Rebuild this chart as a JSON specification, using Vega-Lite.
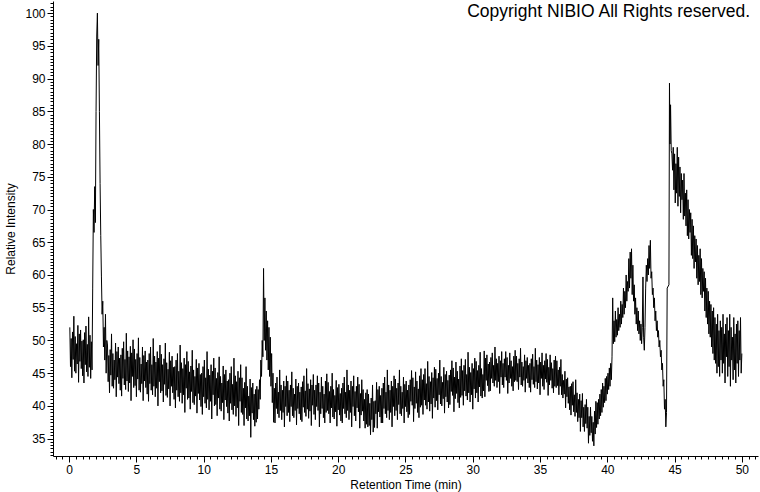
{
  "$schema": "https://vega.github.io/schema/vega-lite/v6.json",
  "width": 705,
  "height": 455,
  "autosize": {"type": "none"},
  "padding": {"left": 53, "top": 1, "right": 2, "bottom": 36},
  "background": "white",
  "config": {
    "view": {"stroke": null},
    "font": "Liberation Sans",
    "axis": {
      "domainColor": "black", "tickColor": "black", "labelColor": "black", "titleColor": "black",
      "labelFont": "Liberation Sans", "titleFont": "Liberation Sans",
      "labelFontSize": 12, "titleFontSize": 12, "titleFontWeight": "normal",
      "grid": false, "labelOverlap": false, "labelFlush": false, "labelPadding": 2
    }
  },
  "layer": [
    {
      "data": {"values": [
        {"t":0.05,"v":52.0},{"t":0.1,"v":46.0},{"t":0.15,"v":50.3},{"t":0.2,"v":44.3},{"t":0.25,"v":51.3},{"t":0.3,"v":47.1},{"t":0.35,"v":53.7},{"t":0.4,"v":45.3},{"t":0.45,"v":50.6},{"t":0.5,"v":45.0},
        {"t":0.55,"v":49.5},{"t":0.6,"v":46.4},{"t":0.65,"v":52.3},{"t":0.7,"v":43.6},{"t":0.75,"v":51.0},{"t":0.8,"v":46.8},{"t":0.85,"v":51.6},{"t":0.9,"v":45.7},{"t":0.95,"v":49.9},{"t":1.0,"v":44.6},
        {"t":1.05,"v":50.1},{"t":1.1,"v":43.5},{"t":1.15,"v":51.2},{"t":1.2,"v":46.3},{"t":1.25,"v":52.2},{"t":1.3,"v":45.2},{"t":1.35,"v":49.4},{"t":1.4,"v":44.5},{"t":1.45,"v":53.6},{"t":1.5,"v":45.9},
        {"t":1.55,"v":50.8},{"t":1.6,"v":44.2},{"t":1.65,"v":49.8},{"t":1.7,"v":45.5},
        {"t":1.75,"v":58},{"t":1.8,"v":70},{"t":1.85,"v":66.5},{"t":1.9,"v":73.5},{"t":1.95,"v":68},{"t":2.0,"v":85},{"t":2.05,"v":96.5},{"t":2.1,"v":100},{"t":2.15,"v":92},{"t":2.2,"v":96},{"t":2.25,"v":85},{"t":2.3,"v":74},{"t":2.35,"v":66},{"t":2.4,"v":59.7},{"t":2.45,"v":54},{"t":2.5,"v":56},{"t":2.55,"v":49},{"t":2.6,"v":52},{"t":2.65,"v":47},{"t":2.7,"v":54},{"t":2.75,"v":45},{"t":2.8,"v":50},
        {"t":2.85,"v":49.3},{"t":2.9,"v":43.7},{"t":2.95,"v":47.7},{"t":3.0,"v":42.0},{"t":3.05,"v":48.6},{"t":3.1,"v":44.7},{"t":3.15,"v":51.0},{"t":3.2,"v":43.0},{"t":3.25,"v":48.0},{"t":3.3,"v":42.7},
        {"t":3.35,"v":47.0},{"t":3.4,"v":44.0},{"t":3.45,"v":49.6},{"t":3.5,"v":41.4},{"t":3.55,"v":48.3},{"t":3.6,"v":44.4},{"t":3.65,"v":49.0},{"t":3.7,"v":43.4},{"t":3.75,"v":47.3},{"t":3.8,"v":42.4},
        {"t":3.85,"v":47.8},{"t":3.9,"v":41.5},{"t":3.95,"v":48.8},{"t":4.0,"v":44.2},{"t":4.05,"v":49.8},{"t":4.1,"v":43.2},{"t":4.15,"v":47.1},{"t":4.2,"v":42.5},{"t":4.25,"v":51.1},{"t":4.3,"v":43.8},
        {"t":4.35,"v":48.4},{"t":4.4,"v":42.2},{"t":4.45,"v":47.5},{"t":4.5,"v":43.5},{"t":4.55,"v":49.1},{"t":4.6,"v":40.8},{"t":4.65,"v":48.1},{"t":4.7,"v":44.5},{"t":4.75,"v":50.1},{"t":4.8,"v":42.8},
        {"t":4.85,"v":48.7},{"t":4.9,"v":43.1},{"t":4.95,"v":47.1},{"t":5.0,"v":41.4},{"t":5.05,"v":48.0},{"t":5.1,"v":44.1},{"t":5.15,"v":50.4},{"t":5.2,"v":42.4},{"t":5.25,"v":47.4},{"t":5.3,"v":42.1},
        {"t":5.35,"v":46.4},{"t":5.4,"v":43.4},{"t":5.45,"v":49.0},{"t":5.5,"v":40.8},{"t":5.55,"v":47.7},{"t":5.6,"v":43.8},{"t":5.65,"v":48.4},{"t":5.7,"v":42.8},{"t":5.75,"v":46.7},{"t":5.8,"v":41.8},
        {"t":5.85,"v":47.0},{"t":5.9,"v":40.7},{"t":5.95,"v":48.0},{"t":6.0,"v":43.4},{"t":6.05,"v":49.0},{"t":6.1,"v":42.4},{"t":6.15,"v":46.3},{"t":6.2,"v":41.7},{"t":6.25,"v":50.3},{"t":6.3,"v":43.0},
        {"t":6.35,"v":47.6},{"t":6.4,"v":41.4},{"t":6.45,"v":46.7},{"t":6.5,"v":42.7},{"t":6.55,"v":48.3},{"t":6.6,"v":40.0},{"t":6.65,"v":47.3},{"t":6.7,"v":43.7},{"t":6.75,"v":49.3},{"t":6.8,"v":42.0},
        {"t":6.85,"v":47.9},{"t":6.9,"v":42.3},{"t":6.95,"v":46.3},{"t":7.0,"v":40.6},{"t":7.05,"v":47.2},{"t":7.1,"v":43.3},{"t":7.15,"v":49.6},{"t":7.2,"v":41.6},{"t":7.25,"v":46.6},{"t":7.3,"v":41.3},
        {"t":7.35,"v":45.6},{"t":7.4,"v":42.6},{"t":7.45,"v":48.2},{"t":7.5,"v":40.0},{"t":7.55,"v":46.9},{"t":7.6,"v":43.0},{"t":7.65,"v":47.6},{"t":7.7,"v":42.0},{"t":7.75,"v":45.9},{"t":7.8,"v":41.0},
        {"t":7.85,"v":46.0},{"t":7.9,"v":39.7},{"t":7.95,"v":47.0},{"t":8.0,"v":42.4},{"t":8.05,"v":48.0},{"t":8.1,"v":41.4},{"t":8.15,"v":45.3},{"t":8.2,"v":40.7},{"t":8.25,"v":49.3},{"t":8.3,"v":42.0},
        {"t":8.35,"v":46.6},{"t":8.4,"v":40.4},{"t":8.45,"v":45.7},{"t":8.5,"v":41.7},{"t":8.55,"v":47.3},{"t":8.6,"v":39.0},{"t":8.65,"v":46.3},{"t":8.7,"v":42.7},{"t":8.75,"v":48.3},{"t":8.8,"v":41.0},
        {"t":8.85,"v":46.8},{"t":8.9,"v":41.2},{"t":8.95,"v":45.2},{"t":9.0,"v":39.5},{"t":9.05,"v":46.1},{"t":9.1,"v":42.2},{"t":9.15,"v":48.5},{"t":9.2,"v":40.5},{"t":9.25,"v":45.5},{"t":9.3,"v":40.2},
        {"t":9.35,"v":44.5},{"t":9.4,"v":41.5},{"t":9.45,"v":47.1},{"t":9.5,"v":38.9},{"t":9.55,"v":45.8},{"t":9.6,"v":41.9},{"t":9.65,"v":46.5},{"t":9.7,"v":40.9},{"t":9.75,"v":44.8},{"t":9.8,"v":39.9},
        {"t":9.85,"v":45.0},{"t":9.9,"v":38.7},{"t":9.95,"v":46.0},{"t":10.0,"v":41.4},{"t":10.05,"v":47.0},{"t":10.1,"v":40.4},{"t":10.15,"v":44.3},{"t":10.2,"v":39.7},{"t":10.25,"v":48.3},{"t":10.3,"v":41.0},
        {"t":10.35,"v":45.6},{"t":10.4,"v":39.4},{"t":10.45,"v":44.7},{"t":10.5,"v":40.7},{"t":10.55,"v":46.3},{"t":10.6,"v":38.0},{"t":10.65,"v":45.3},{"t":10.7,"v":41.7},{"t":10.75,"v":47.3},{"t":10.8,"v":40.0},
        {"t":10.85,"v":45.8},{"t":10.9,"v":40.2},{"t":10.95,"v":44.2},{"t":11.0,"v":38.5},{"t":11.05,"v":45.1},{"t":11.1,"v":41.2},{"t":11.15,"v":47.5},{"t":11.2,"v":39.5},{"t":11.25,"v":44.5},{"t":11.3,"v":39.2},
        {"t":11.35,"v":43.5},{"t":11.4,"v":40.5},{"t":11.45,"v":46.1},{"t":11.5,"v":37.9},{"t":11.55,"v":44.8},{"t":11.6,"v":40.9},{"t":11.65,"v":45.5},{"t":11.7,"v":39.9},{"t":11.75,"v":43.8},{"t":11.8,"v":38.9},
        {"t":11.85,"v":44.0},{"t":11.9,"v":37.7},{"t":11.95,"v":45.0},{"t":12.0,"v":40.4},{"t":12.05,"v":46.0},{"t":12.1,"v":39.4},{"t":12.15,"v":43.3},{"t":12.2,"v":38.7},{"t":12.25,"v":47.3},{"t":12.3,"v":40.0},
        {"t":12.35,"v":44.6},{"t":12.4,"v":38.4},{"t":12.45,"v":43.7},{"t":12.5,"v":39.7},{"t":12.55,"v":45.3},{"t":12.6,"v":37.0},{"t":12.65,"v":44.3},{"t":12.7,"v":40.7},{"t":12.75,"v":46.3},{"t":12.8,"v":39.0},
        {"t":12.85,"v":44.3},{"t":12.9,"v":38.7},{"t":12.95,"v":42.7},{"t":13.0,"v":37.0},{"t":13.05,"v":43.6},{"t":13.1,"v":39.7},{"t":13.15,"v":46.0},{"t":13.2,"v":38.0},{"t":13.25,"v":43.0},{"t":13.3,"v":37.7},
        {"t":13.35,"v":41.5},{"t":13.4,"v":38.5},{"t":13.45,"v":44.1},{"t":13.5,"v":35.2},{"t":13.55,"v":42.8},{"t":13.6,"v":38.9},{"t":13.65,"v":43.5},{"t":13.7,"v":37.9},{"t":13.75,"v":41.8},{"t":13.8,"v":36.9},
        {"t":13.85,"v":42.5},{"t":13.9,"v":37.5},{"t":13.95,"v":43.0},{"t":14.0,"v":38.0},{"t":14.05,"v":42.5},{"t":14.1,"v":39.5},{"t":14.15,"v":44.0},{"t":14.2,"v":41.0},{"t":14.25,"v":47.0},{"t":14.3,"v":44.5},
        {"t":14.35,"v":50.0},{"t":14.4,"v":47.5},{"t":14.45,"v":61.0},{"t":14.5,"v":50.0},{"t":14.55,"v":56.5},{"t":14.6,"v":48.5},{"t":14.65,"v":54.5},{"t":14.7,"v":47.0},{"t":14.75,"v":53.0},{"t":14.8,"v":45.5},
        {"t":14.85,"v":52.0},{"t":14.9,"v":44.5},{"t":14.95,"v":50.5},{"t":15.0,"v":43.0},{"t":15.05,"v":48.0},{"t":15.1,"v":40.5},{"t":15.15,"v":45.0},{"t":15.2,"v":37.5},
        {"t":15.25,"v":42.7},{"t":15.3,"v":37.4},{"t":15.35,"v":43.5},{"t":15.4,"v":39.6},{"t":15.45,"v":44.4},{"t":15.5,"v":38.8},{"t":15.55,"v":42.1},{"t":15.6,"v":38.2},{"t":15.65,"v":45.5},{"t":15.7,"v":39.3},
        {"t":15.75,"v":43.2},{"t":15.8,"v":37.9},{"t":15.85,"v":42.4},{"t":15.9,"v":39.0},{"t":15.95,"v":43.8},{"t":16.0,"v":36.8},{"t":16.05,"v":43.0},{"t":16.1,"v":39.9},{"t":16.15,"v":44.6},{"t":16.2,"v":38.5},
        {"t":16.25,"v":43.8},{"t":16.3,"v":39.0},{"t":16.35,"v":42.4},{"t":16.4,"v":37.6},{"t":16.45,"v":43.2},{"t":16.5,"v":39.9},{"t":16.55,"v":45.2},{"t":16.6,"v":38.5},{"t":16.65,"v":42.7},{"t":16.7,"v":38.2},
        {"t":16.75,"v":41.8},{"t":16.8,"v":39.3},{"t":16.85,"v":44.1},{"t":16.9,"v":37.1},{"t":16.95,"v":43.0},{"t":17.0,"v":39.6},{"t":17.05,"v":43.5},{"t":17.1,"v":38.8},{"t":17.15,"v":42.1},{"t":17.2,"v":37.9},
        {"t":17.25,"v":42.9},{"t":17.3,"v":37.6},{"t":17.35,"v":43.7},{"t":17.4,"v":39.8},{"t":17.45,"v":44.6},{"t":17.5,"v":39.0},{"t":17.55,"v":42.3},{"t":17.6,"v":38.4},{"t":17.65,"v":45.7},{"t":17.7,"v":39.5},
        {"t":17.75,"v":43.4},{"t":17.8,"v":38.1},{"t":17.85,"v":42.6},{"t":17.9,"v":39.2},{"t":17.95,"v":44.0},{"t":18.0,"v":37.0},{"t":18.05,"v":43.2},{"t":18.1,"v":40.1},{"t":18.15,"v":44.8},{"t":18.2,"v":38.7},
        {"t":18.25,"v":42.4},{"t":18.3,"v":37.9},{"t":18.35,"v":43.2},{"t":18.4,"v":39.9},{"t":18.45,"v":44.6},{"t":18.5,"v":39.3},{"t":18.55,"v":43.5},{"t":18.6,"v":36.8},{"t":18.65,"v":42.1},{"t":18.7,"v":38.8},
        {"t":18.75,"v":44.4},{"t":18.8,"v":39.6},{"t":18.85,"v":43.0},{"t":18.9,"v":38.2},{"t":18.95,"v":41.8},{"t":19.0,"v":37.4},{"t":19.05,"v":43.8},{"t":19.1,"v":39.0},{"t":19.15,"v":44.9},{"t":19.2,"v":39.3},
        {"t":19.25,"v":43.6},{"t":19.3,"v":38.8},{"t":19.35,"v":42.2},{"t":19.4,"v":37.4},{"t":19.45,"v":43.0},{"t":19.5,"v":39.7},{"t":19.55,"v":45.0},{"t":19.6,"v":38.3},{"t":19.65,"v":42.5},{"t":19.7,"v":38.0},
        {"t":19.75,"v":41.6},{"t":19.8,"v":39.1},{"t":19.85,"v":43.9},{"t":19.9,"v":36.9},{"t":19.95,"v":42.8},{"t":20.0,"v":39.4},{"t":20.05,"v":43.3},{"t":20.1,"v":38.6},{"t":20.15,"v":41.9},{"t":20.2,"v":37.7},
        {"t":20.25,"v":42.7},{"t":20.3,"v":37.4},{"t":20.35,"v":43.5},{"t":20.4,"v":39.6},{"t":20.45,"v":44.4},{"t":20.5,"v":38.8},{"t":20.55,"v":42.1},{"t":20.6,"v":38.2},{"t":20.65,"v":45.5},{"t":20.7,"v":39.3},
        {"t":20.75,"v":43.2},{"t":20.8,"v":37.9},{"t":20.85,"v":42.4},{"t":20.9,"v":39.0},{"t":20.95,"v":43.8},{"t":21.0,"v":36.8},{"t":21.05,"v":43.0},{"t":21.1,"v":39.9},{"t":21.15,"v":44.6},{"t":21.2,"v":38.5},
        {"t":21.25,"v":42.2},{"t":21.3,"v":37.7},{"t":21.35,"v":43.0},{"t":21.4,"v":39.7},{"t":21.45,"v":44.4},{"t":21.5,"v":39.1},{"t":21.55,"v":43.3},{"t":21.6,"v":36.6},{"t":21.65,"v":41.9},{"t":21.7,"v":38.6},
        {"t":21.75,"v":44.0},{"t":21.8,"v":39.2},{"t":21.85,"v":42.5},{"t":21.9,"v":37.7},{"t":21.95,"v":41.0},{"t":22.0,"v":36.6},{"t":22.05,"v":42.0},{"t":22.1,"v":37.2},{"t":22.15,"v":42.5},{"t":22.2,"v":36.8},
        {"t":22.25,"v":41.8},{"t":22.3,"v":37.0},{"t":22.35,"v":40.4},{"t":22.4,"v":35.6},{"t":22.45,"v":41.2},{"t":22.5,"v":37.9},{"t":22.55,"v":43.2},{"t":22.6,"v":36.0},{"t":22.65,"v":40.7},{"t":22.7,"v":36.7},
        {"t":22.75,"v":40.8},{"t":22.8,"v":38.8},{"t":22.85,"v":43.6},{"t":22.9,"v":36.6},{"t":22.95,"v":42.5},{"t":23.0,"v":39.1},{"t":23.05,"v":43.0},{"t":23.1,"v":38.3},{"t":23.15,"v":41.6},{"t":23.2,"v":37.4},
        {"t":23.25,"v":42.7},{"t":23.3,"v":37.4},{"t":23.35,"v":43.5},{"t":23.4,"v":39.6},{"t":23.45,"v":44.4},{"t":23.5,"v":38.8},{"t":23.55,"v":42.1},{"t":23.6,"v":38.2},{"t":23.65,"v":45.5},{"t":23.7,"v":39.3},
        {"t":23.75,"v":43.2},{"t":23.8,"v":37.9},{"t":23.85,"v":42.4},{"t":23.9,"v":39.0},{"t":23.95,"v":43.8},{"t":24.0,"v":36.8},{"t":24.05,"v":43.0},{"t":24.1,"v":39.9},{"t":24.15,"v":44.6},{"t":24.2,"v":38.5},
        {"t":24.25,"v":44.1},{"t":24.3,"v":39.3},{"t":24.35,"v":42.7},{"t":24.4,"v":37.9},{"t":24.45,"v":43.5},{"t":24.5,"v":40.2},{"t":24.55,"v":45.5},{"t":24.6,"v":38.8},{"t":24.65,"v":43.0},{"t":24.7,"v":38.5},
        {"t":24.75,"v":42.1},{"t":24.8,"v":39.6},{"t":24.85,"v":44.4},{"t":24.9,"v":37.4},{"t":24.95,"v":43.3},{"t":25.0,"v":39.9},{"t":25.05,"v":43.8},{"t":25.1,"v":39.1},{"t":25.15,"v":42.4},{"t":25.2,"v":38.2},
        {"t":25.25,"v":43.2},{"t":25.3,"v":38.7},{"t":25.35,"v":44.0},{"t":25.4,"v":40.7},{"t":25.45,"v":45.4},{"t":25.5,"v":40.1},{"t":25.55,"v":44.3},{"t":25.6,"v":37.6},{"t":25.65,"v":42.9},{"t":25.7,"v":39.6},
        {"t":25.75,"v":45.2},{"t":25.8,"v":40.4},{"t":25.85,"v":43.8},{"t":25.9,"v":39.0},{"t":25.95,"v":42.6},{"t":26.0,"v":38.2},{"t":26.05,"v":44.6},{"t":26.1,"v":39.8},{"t":26.15,"v":45.7},{"t":26.2,"v":40.1},
        {"t":26.25,"v":44.0},{"t":26.3,"v":38.7},{"t":26.35,"v":44.8},{"t":26.4,"v":40.9},{"t":26.45,"v":45.7},{"t":26.5,"v":40.1},{"t":26.55,"v":43.4},{"t":26.6,"v":39.5},{"t":26.65,"v":46.8},{"t":26.7,"v":40.6},
        {"t":26.75,"v":44.5},{"t":26.8,"v":39.2},{"t":26.85,"v":43.7},{"t":26.9,"v":40.3},{"t":26.95,"v":45.1},{"t":27.0,"v":38.1},{"t":27.05,"v":44.3},{"t":27.1,"v":41.2},{"t":27.15,"v":45.9},{"t":27.2,"v":39.8},
        {"t":27.25,"v":45.6},{"t":27.3,"v":40.8},{"t":27.35,"v":44.2},{"t":27.4,"v":39.4},{"t":27.45,"v":45.0},{"t":27.5,"v":41.7},{"t":27.55,"v":47.0},{"t":27.6,"v":40.3},{"t":27.65,"v":44.5},{"t":27.7,"v":40.0},
        {"t":27.75,"v":43.6},{"t":27.8,"v":41.1},{"t":27.85,"v":45.9},{"t":27.9,"v":38.9},{"t":27.95,"v":44.8},{"t":28.0,"v":41.4},{"t":28.05,"v":45.3},{"t":28.1,"v":40.6},{"t":28.15,"v":43.9},{"t":28.2,"v":39.7},
        {"t":28.25,"v":44.7},{"t":28.3,"v":40.2},{"t":28.35,"v":45.5},{"t":28.4,"v":42.2},{"t":28.45,"v":46.9},{"t":28.5,"v":41.6},{"t":28.55,"v":45.8},{"t":28.6,"v":39.1},{"t":28.65,"v":44.4},{"t":28.7,"v":41.1},
        {"t":28.75,"v":46.7},{"t":28.8,"v":41.9},{"t":28.85,"v":45.3},{"t":28.9,"v":40.5},{"t":28.95,"v":44.1},{"t":29.0,"v":39.7},{"t":29.05,"v":46.1},{"t":29.1,"v":41.3},{"t":29.15,"v":47.2},{"t":29.2,"v":41.6},
        {"t":29.25,"v":45.4},{"t":29.3,"v":40.1},{"t":29.35,"v":46.2},{"t":29.4,"v":42.3},{"t":29.45,"v":47.1},{"t":29.5,"v":41.5},{"t":29.55,"v":44.8},{"t":29.6,"v":40.9},{"t":29.65,"v":48.2},{"t":29.7,"v":42.0},
        {"t":29.75,"v":45.9},{"t":29.8,"v":40.6},{"t":29.85,"v":45.1},{"t":29.9,"v":41.7},{"t":29.95,"v":46.5},{"t":30.0,"v":39.5},{"t":30.05,"v":45.7},{"t":30.1,"v":42.6},{"t":30.15,"v":47.3},{"t":30.2,"v":41.2},
        {"t":30.25,"v":46.8},{"t":30.3,"v":42.0},{"t":30.35,"v":45.4},{"t":30.4,"v":40.6},{"t":30.45,"v":46.2},{"t":30.5,"v":42.9},{"t":30.55,"v":48.2},{"t":30.6,"v":41.5},{"t":30.65,"v":45.7},{"t":30.7,"v":41.2},
        {"t":30.75,"v":44.8},{"t":30.8,"v":42.3},{"t":30.85,"v":48.4},{"t":30.9,"v":41.4},{"t":30.95,"v":47.3},{"t":31.0,"v":43.9},{"t":31.05,"v":47.8},{"t":31.1,"v":43.1},{"t":31.15,"v":46.4},{"t":31.2,"v":42.2},
        {"t":31.25,"v":46.7},{"t":31.3,"v":42.3},{"t":31.35,"v":47.4},{"t":31.4,"v":44.2},{"t":31.45,"v":48.1},{"t":31.5,"v":43.5},{"t":31.55,"v":46.2},{"t":31.6,"v":43.0},{"t":31.65,"v":49.0},{"t":31.7,"v":43.9},
        {"t":31.75,"v":47.2},{"t":31.8,"v":42.8},{"t":31.85,"v":46.5},{"t":31.9,"v":43.7},{"t":31.95,"v":47.6},{"t":32.0,"v":41.9},{"t":32.05,"v":46.9},{"t":32.1,"v":44.4},{"t":32.15,"v":48.3},{"t":32.2,"v":43.2},
        {"t":32.25,"v":46.5},{"t":32.3,"v":42.8},{"t":32.35,"v":47.2},{"t":32.4,"v":44.4},{"t":32.45,"v":48.3},{"t":32.5,"v":43.9},{"t":32.55,"v":47.4},{"t":32.6,"v":41.9},{"t":32.65,"v":46.2},{"t":32.7,"v":43.5},
        {"t":32.75,"v":48.1},{"t":32.8,"v":44.2},{"t":32.85,"v":46.9},{"t":32.9,"v":43.0},{"t":32.95,"v":46.0},{"t":33.0,"v":42.3},{"t":33.05,"v":47.6},{"t":33.1,"v":43.7},{"t":33.15,"v":48.5},{"t":33.2,"v":43.9},
        {"t":33.25,"v":47.6},{"t":33.3,"v":43.7},{"t":33.35,"v":46.5},{"t":33.4,"v":42.5},{"t":33.45,"v":47.2},{"t":33.5,"v":44.4},{"t":33.55,"v":48.8},{"t":33.6,"v":43.2},{"t":33.65,"v":46.7},{"t":33.7,"v":43.0},
        {"t":33.75,"v":46.0},{"t":33.8,"v":43.9},{"t":33.85,"v":47.8},{"t":33.9,"v":42.1},{"t":33.95,"v":46.9},{"t":34.0,"v":44.2},{"t":34.05,"v":47.4},{"t":34.1,"v":43.5},{"t":34.15,"v":46.2},{"t":34.2,"v":42.8},
        {"t":34.25,"v":46.5},{"t":34.3,"v":42.1},{"t":34.35,"v":47.2},{"t":34.4,"v":44.0},{"t":34.45,"v":47.9},{"t":34.5,"v":43.3},{"t":34.55,"v":46.0},{"t":34.6,"v":42.8},{"t":34.65,"v":48.8},{"t":34.7,"v":43.7},
        {"t":34.75,"v":47.0},{"t":34.8,"v":42.6},{"t":34.85,"v":46.3},{"t":34.9,"v":43.5},{"t":34.95,"v":47.4},{"t":35.0,"v":41.7},{"t":35.05,"v":46.7},{"t":35.1,"v":44.2},{"t":35.15,"v":48.1},{"t":35.2,"v":43.0},
        {"t":35.25,"v":46.2},{"t":35.3,"v":42.5},{"t":35.35,"v":46.9},{"t":35.4,"v":44.1},{"t":35.45,"v":48.0},{"t":35.5,"v":43.6},{"t":35.55,"v":47.1},{"t":35.6,"v":41.6},{"t":35.65,"v":45.9},{"t":35.7,"v":43.2},
        {"t":35.75,"v":47.8},{"t":35.8,"v":43.9},{"t":35.85,"v":46.6},{"t":35.9,"v":42.7},{"t":35.95,"v":45.7},{"t":36.0,"v":42.0},{"t":36.05,"v":47.0},{"t":36.1,"v":43.0},{"t":36.15,"v":47.6},{"t":36.2,"v":42.8},
        {"t":36.25,"v":46.9},{"t":36.3,"v":43.1},{"t":36.35,"v":45.5},{"t":36.4,"v":41.7},{"t":36.45,"v":45.9},{"t":36.5,"v":43.0},{"t":36.55,"v":47.1},{"t":36.6,"v":41.7},{"t":36.65,"v":44.8},{"t":36.7,"v":41.2},
        {"t":36.75,"v":43.9},{"t":36.8,"v":41.8},{"t":36.85,"v":45.3},{"t":36.9,"v":39.7},{"t":36.95,"v":44.1},{"t":37.0,"v":41.4},{"t":37.05,"v":44.3},{"t":37.1,"v":40.4},{"t":37.15,"v":42.9},{"t":37.2,"v":39.4},
        {"t":37.25,"v":43.0},{"t":37.3,"v":38.6},{"t":37.35,"v":43.4},{"t":37.4,"v":40.1},{"t":37.45,"v":43.7},{"t":37.5,"v":39.1},{"t":37.55,"v":41.7},{"t":37.6,"v":38.4},{"t":37.65,"v":44.0},{"t":37.7,"v":39.0},
        {"t":37.75,"v":42.0},{"t":37.8,"v":37.6},{"t":37.85,"v":41.0},{"t":37.9,"v":38.2},{"t":37.95,"v":41.8},{"t":38.0,"v":36.1},{"t":38.05,"v":40.8},{"t":38.1,"v":38.2},{"t":38.15,"v":41.9},{"t":38.2,"v":36.8},
        {"t":38.25,"v":39.8},{"t":38.3,"v":36.1},{"t":38.35,"v":40.2},{"t":38.4,"v":37.3},{"t":38.45,"v":41.0},{"t":38.5,"v":36.6},{"t":38.55,"v":39.8},{"t":38.6,"v":34.3},{"t":38.65,"v":38.4},{"t":38.7,"v":35.5},
        {"t":38.75,"v":39.8},{"t":38.8,"v":35.9},{"t":38.85,"v":38.4},{"t":38.9,"v":34.6},{"t":38.95,"v":37.5},{"t":39.0,"v":33.9},{"t":39.05,"v":39.2},{"t":39.1,"v":35.7},{"t":39.15,"v":40.7},{"t":39.2,"v":36.7},
        {"t":39.25,"v":40.5},{"t":39.3,"v":37.2},{"t":39.35,"v":41.0},{"t":39.4,"v":38.0},{"t":39.45,"v":41.8},{"t":39.5,"v":38.5},{"t":39.55,"v":42.5},{"t":39.6,"v":39.0},{"t":39.65,"v":43.5},{"t":39.7,"v":39.8},
        {"t":39.75,"v":43.0},{"t":39.8,"v":40.5},{"t":39.85,"v":44.2},{"t":39.9,"v":40.8},{"t":39.95,"v":44.5},{"t":40.0,"v":41.8},{"t":40.05,"v":45.0},{"t":40.1,"v":42.5},{"t":40.15,"v":45.8},{"t":40.2,"v":43.0},
        {"t":40.25,"v":46.5},{"t":40.3,"v":44.0},{"t":40.35,"v":47.5},{"t":40.4,"v":56.5},{"t":40.45,"v":49.5},
        {"t":40.5,"v":53.0},{"t":40.55,"v":49.8},{"t":40.6,"v":54.5},{"t":40.65,"v":50.5},{"t":40.7,"v":53.2},{"t":40.75,"v":50.8},{"t":40.8,"v":55.0},{"t":40.85,"v":51.5},{"t":40.9,"v":54.0},{"t":40.95,"v":52.0},
        {"t":41.0,"v":56.0},{"t":41.05,"v":52.5},{"t":41.1,"v":55.5},{"t":41.15,"v":53.5},{"t":41.2,"v":58.0},{"t":41.25,"v":54.0},{"t":41.3,"v":57.5},{"t":41.35,"v":55.0},{"t":41.4,"v":60.0},{"t":41.45,"v":56.0},
        {"t":41.5,"v":59.0},{"t":41.55,"v":57.5},{"t":41.6,"v":62.5},{"t":41.65,"v":58.0},{"t":41.7,"v":63.5},{"t":41.75,"v":59.5},{"t":41.8,"v":64.0},{"t":41.85,"v":57.0},{"t":41.9,"v":61.5},{"t":41.95,"v":56.0},
        {"t":42.0,"v":58.5},{"t":42.05,"v":54.0},{"t":42.1,"v":56.5},{"t":42.15,"v":52.5},{"t":42.2,"v":55.0},{"t":42.25,"v":51.5},{"t":42.3,"v":54.5},{"t":42.35,"v":51.0},{"t":42.4,"v":53.0},{"t":42.45,"v":50.0},
        {"t":42.5,"v":52.5},{"t":42.55,"v":49.5},{"t":42.6,"v":52.0},{"t":42.65,"v":59.7},{"t":42.7,"v":50.5},{"t":42.75,"v":48.5},{"t":42.8,"v":52.0},{"t":42.85,"v":58.0},{"t":42.9,"v":61.5},{"t":42.95,"v":59.0},
        {"t":43.0,"v":62.5},{"t":43.05,"v":60.0},{"t":43.1,"v":64.5},{"t":43.15,"v":61.0},{"t":43.2,"v":65.3},{"t":43.25,"v":59.5},{"t":43.3,"v":60.5},{"t":43.35,"v":57.0},{"t":43.4,"v":58.0},{"t":43.45,"v":55.0},
        {"t":43.5,"v":56.5},{"t":43.55,"v":53.0},{"t":43.6,"v":54.5},{"t":43.65,"v":51.5},{"t":43.7,"v":53.0},{"t":43.75,"v":50.5},{"t":43.8,"v":51.5},{"t":43.85,"v":49.0},{"t":43.9,"v":50.0},{"t":43.95,"v":47.5},
        {"t":44.0,"v":48.5},{"t":44.05,"v":45.5},{"t":44.1,"v":46.5},{"t":44.15,"v":43.0},{"t":44.2,"v":44.0},{"t":44.25,"v":39.5},{"t":44.3,"v":41.0},{"t":44.35,"v":36.8},{"t":44.4,"v":39.0},
        {"t":44.45,"v":58.0},{"t":44.58,"v":58.5},{"t":44.62,"v":89.3},{"t":44.66,"v":80.0},{"t":44.7,"v":86.0},{"t":44.75,"v":79.0},{"t":44.8,"v":78.5},{"t":44.85,"v":76.0},{"t":44.9,"v":79.5},{"t":44.95,"v":73.0},
        {"t":45.0,"v":78.5},{"t":45.05,"v":71.0},{"t":45.1,"v":77.0},{"t":45.15,"v":72.5},{"t":45.2,"v":79.5},{"t":45.25,"v":70.5},{"t":45.3,"v":78.0},{"t":45.35,"v":72.0},{"t":45.4,"v":76.5},{"t":45.45,"v":69.5},
        {"t":45.5,"v":75.5},{"t":45.55,"v":71.5},{"t":45.6,"v":74.5},{"t":45.65,"v":68.5},{"t":45.7,"v":75.5},{"t":45.75,"v":69.0},{"t":45.8,"v":72.5},{"t":45.85,"v":67.5},{"t":45.9,"v":73.0},{"t":45.95,"v":66.0},
        {"t":46.0,"v":71.5},{"t":46.05,"v":65.5},{"t":46.1,"v":70.0},{"t":46.15,"v":66.5},{"t":46.2,"v":69.5},{"t":46.25,"v":63.0},{"t":46.3,"v":68.5},{"t":46.35,"v":62.5},{"t":46.4,"v":67.5},{"t":46.45,"v":61.0},
        {"t":46.5,"v":66.0},{"t":46.55,"v":62.0},{"t":46.6,"v":65.5},{"t":46.65,"v":59.5},{"t":46.7,"v":64.5},{"t":46.75,"v":58.5},{"t":46.8,"v":63.0},{"t":46.85,"v":59.0},{"t":46.9,"v":64.0},{"t":46.95,"v":57.0},
        {"t":47.0,"v":62.5},{"t":47.05,"v":56.5},{"t":47.1,"v":61.0},{"t":47.15,"v":57.5},{"t":47.2,"v":60.5},{"t":47.25,"v":54.5},{"t":47.3,"v":59.5},{"t":47.35,"v":53.5},{"t":47.4,"v":58.0},{"t":47.45,"v":52.5},
        {"t":47.5,"v":57.5},{"t":47.55,"v":51.0},{"t":47.6,"v":56.0},{"t":47.65,"v":50.5},{"t":47.7,"v":55.5},{"t":47.75,"v":49.0},{"t":47.8,"v":54.5},{"t":47.85,"v":48.0},{"t":47.9,"v":55.0},{"t":47.95,"v":47.0},
        {"t":48.0,"v":53.5},{"t":48.05,"v":46.5},{"t":48.1,"v":52.5},{"t":48.15,"v":45.0},{"t":48.2,"v":54.0},{"t":48.25,"v":46.0},{"t":48.3,"v":51.5},{"t":48.35,"v":44.5},{"t":48.4,"v":53.0},{"t":48.45,"v":47.0},
        {"t":48.5,"v":52.0},{"t":48.55,"v":45.0},{"t":48.6,"v":54.0},{"t":48.65,"v":46.5},{"t":48.7,"v":51.0},{"t":48.75,"v":43.5},{"t":48.8,"v":52.5},{"t":48.85,"v":47.5},{"t":48.9,"v":53.5},{"t":48.95,"v":44.5},
        {"t":49.0,"v":51.5},{"t":49.05,"v":46.0},{"t":49.1,"v":54.0},{"t":49.15,"v":43.0},{"t":49.2,"v":52.0},{"t":49.25,"v":47.0},{"t":49.3,"v":50.5},{"t":49.35,"v":44.0},{"t":49.4,"v":53.5},{"t":49.45,"v":45.5},
        {"t":49.5,"v":51.0},{"t":49.55,"v":43.5},{"t":49.6,"v":52.5},{"t":49.65,"v":46.5},{"t":49.7,"v":53.0},{"t":49.75,"v":44.5},{"t":49.8,"v":51.5},{"t":49.85,"v":47.0},{"t":49.9,"v":53.5},{"t":49.95,"v":45.0},{"t":50.0,"v":48.0}
      ]},
      "mark": {"type": "line", "color": "black", "strokeWidth": 1, "clip": true},
      "encoding": {
        "x": {
          "field": "t", "type": "quantitative",
          "scale": {"domain": [-1.2, 51.2], "nice": false, "zero": false},
          "axis": {
            "title": "Retention Time (min)", "titlePadding": 4,
            "tickCount": 105,
            "labelExpr": "datum.value % 5 === 0 ? format(datum.value, 'd') : ''",
            "tickSize": {"condition": {"test": "datum.value % 5 === 0", "value": 6}, "value": 3}
          }
        },
        "y": {
          "field": "v", "type": "quantitative",
          "scale": {"domain": [32.35, 101.85], "nice": false, "zero": false},
          "axis": {
            "title": "Relative Intensity", "titlePadding": 7,
            "tickCount": 139,
            "labelExpr": "datum.value % 5 === 0 ? format(datum.value, 'd') : ''",
            "tickSize": {"condition": {"test": "datum.value % 5 === 0", "value": 6}, "value": 3}
          }
        }
      }
    },
    {
      "data": {"values": [{"label": "Copyright NIBIO All Rights reserved."}]},
      "mark": {"type": "text", "align": "right", "baseline": "alphabetic", "fontSize": 17.5, "font": "Liberation Sans", "color": "black"},
      "encoding": {
        "x": {"datum": 50.62},
        "y": {"datum": 99.43},
        "text": {"field": "label"}
      }
    }
  ]
}
